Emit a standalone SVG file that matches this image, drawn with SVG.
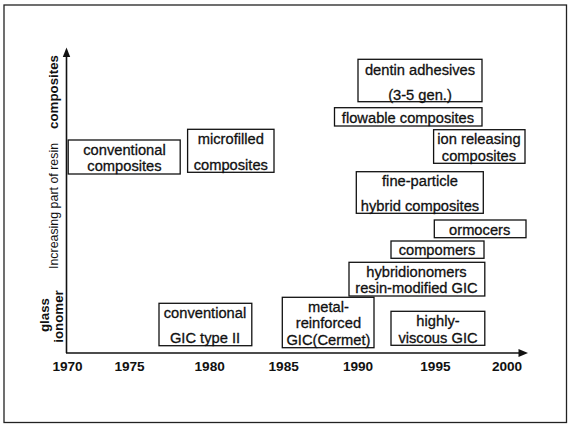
<svg xmlns="http://www.w3.org/2000/svg" width="569" height="424" viewBox="0 0 569 424">
<style>
.box{fill:#fff;stroke:#111;stroke-width:1.3}
.t{font-family:"Liberation Sans",Arial,sans-serif;font-size:14.7px;fill:#111;stroke:#111;stroke-width:0.3;text-anchor:middle;dominant-baseline:central}
.yr{font-family:"Liberation Sans",Arial,sans-serif;font-size:13.6px;font-weight:bold;fill:#111;text-anchor:middle;dominant-baseline:central}
.ax{stroke:#111;stroke-width:1.6;fill:none}
.lb{font-family:"Liberation Sans",Arial,sans-serif;font-size:13.3px;font-weight:bold;fill:#111;text-anchor:middle;dominant-baseline:central}
.lr{font-family:"Liberation Sans",Arial,sans-serif;font-size:12.4px;fill:#111;text-anchor:middle;dominant-baseline:central}
</style>
<rect x="4" y="5" width="562.5" height="417.5" fill="#fff" stroke="#222" stroke-width="1.3"/>
<g id="axes">
<line class="ax" x1="66.5" y1="353" x2="66.5" y2="55"/>
<polygon points="66.5,47.5 62.8,57 70.2,57" fill="#111"/>
<line class="ax" x1="66" y1="353" x2="519" y2="353"/>
<polygon points="528,353 518.5,349 518.5,357" fill="#111"/>
</g>
<g id="axis-labels">
<text class="lb" transform="translate(53.7,92) rotate(-90)">composites</text>
<text class="lr" transform="translate(53.7,206) rotate(-90)">Increasing part of resin</text>
<text class="lb" transform="translate(44.3,315) rotate(-90)">glass</text>
<text class="lb" transform="translate(58,316.5) rotate(-90)">ionomer</text>
</g>
<g id="years">
<text class="yr" x="67.5" y="366">1970</text>
<text class="yr" x="129.5" y="366">1975</text>
<text class="yr" x="209.7" y="366">1980</text>
<text class="yr" x="283.7" y="366">1985</text>
<text class="yr" x="358" y="366">1990</text>
<text class="yr" x="435.4" y="366">1995</text>
<text class="yr" x="507" y="366">2000</text>
</g>
<g id="conventional-composites">
<rect class="box" x="68.2" y="140" width="112" height="34"/>
<text class="t" x="124.5" y="150">conventional</text>
<text class="t" x="124.5" y="166">composites</text>
</g>
<g id="microfilled-composites">
<rect class="box" x="187.6" y="129.3" width="86.4" height="43"/>
<text class="t" x="230.8" y="139.3">microfilled</text>
<text class="t" x="230.8" y="164.7">composites</text>
</g>
<g id="dentin-adhesives">
<rect class="box" x="358" y="59.3" width="124" height="42.4"/>
<text class="t" x="420" y="70">dentin adhesives</text>
<text class="t" x="420" y="95">(3-5 gen.)</text>
</g>
<g id="flowable-composites">
<rect class="box" x="334.5" y="107.7" width="147.5" height="18.3"/>
<text class="t" x="408" y="118">flowable composites</text>
</g>
<g id="ion-releasing-composites">
<rect class="box" x="433.6" y="129.7" width="91.4" height="33.6"/>
<text class="t" x="479" y="139">ion releasing</text>
<text class="t" x="479" y="155.7">composites</text>
</g>
<g id="fine-particle-hybrid-composites">
<rect class="box" x="356.3" y="171.7" width="127" height="41.6"/>
<text class="t" x="420" y="181">fine-particle</text>
<text class="t" x="420" y="205.7">hybrid composites</text>
</g>
<g id="ormocers">
<rect class="box" x="434.3" y="220" width="91.7" height="17.7"/>
<text class="t" x="479.7" y="229.5">ormocers</text>
</g>
<g id="compomers">
<rect class="box" x="391" y="241" width="93" height="17.3"/>
<text class="t" x="437" y="250.3">compomers</text>
</g>
<g id="hybridionomers">
<rect class="box" x="349" y="262.3" width="135.8" height="33.7"/>
<text class="t" x="416.5" y="272.3">hybridionomers</text>
<text class="t" x="416.5" y="288.3">resin-modified GIC</text>
</g>
<g id="conventional-gic">
<rect class="box" x="159" y="303.3" width="92.8" height="42.4"/>
<text class="t" x="205" y="313.3">conventional</text>
<text class="t" x="205" y="338.3">GIC type II</text>
</g>
<g id="metal-reinforced-gic">
<rect class="box" x="282.3" y="297.3" width="91.7" height="50.4"/>
<text class="t" x="328.4" y="307.3">metal-</text>
<text class="t" x="328.4" y="323.3">reinforced</text>
<text class="t" x="328.4" y="340">GIC(Cermet)</text>
</g>
<g id="highly-viscous-gic">
<rect class="box" x="391" y="311.3" width="93.8" height="34"/>
<text class="t" x="438" y="321">highly-</text>
<text class="t" x="438" y="337.7">viscous GIC</text>
</g>
</svg>
